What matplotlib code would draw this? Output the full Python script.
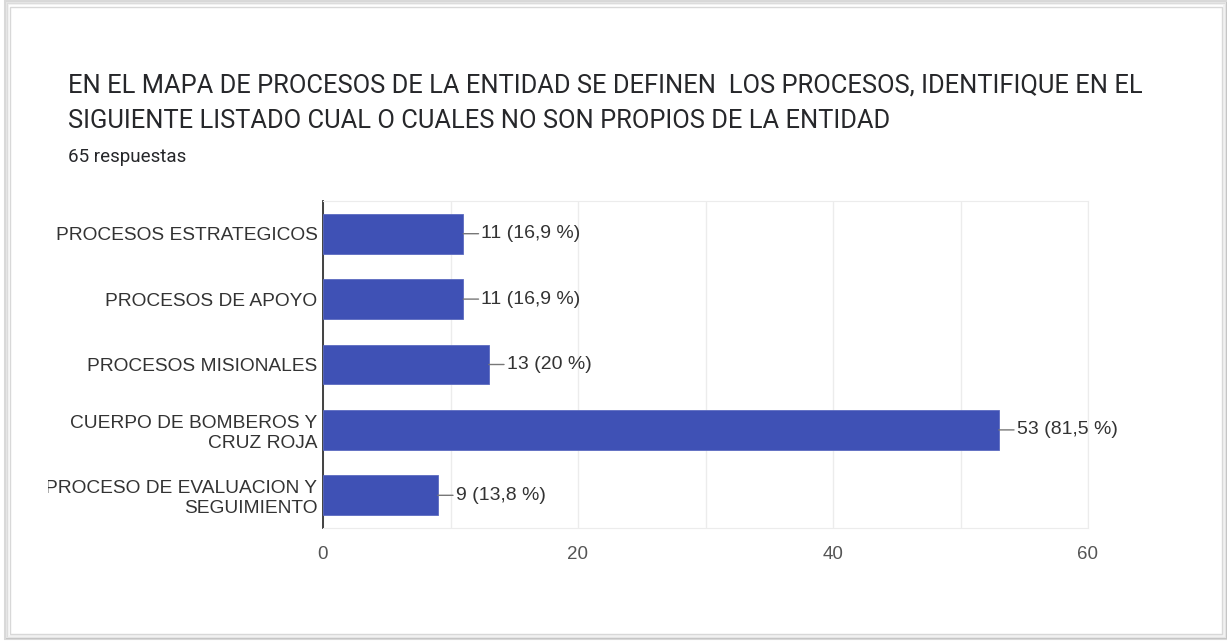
import matplotlib.pyplot as plt
from matplotlib.patches import Rectangle
from matplotlib.transforms import Bbox, TransformedBbox

categories = ["PROCESOS ESTRATEGICOS", "PROCESOS DE APOYO", "PROCESOS MISIONALES",
              "CUERPO DE BOMBEROS Y\nCRUZ ROJA", "PROCESO DE EVALUACION Y\nSEGUIMIENTO"]
counts = [11, 11, 13, 53, 9]
percents = [16.9, 16.9, 20, 81.5, 13.8]
xticks = [0, 20, 40, 60]

title_lines = ["EN EL MAPA DE PROCESOS DE LA ENTIDAD SE DEFINEN  LOS PROCESOS, IDENTIFIQUE EN EL",
               "SIGUIENTE LISTADO CUAL O CUALES NO SON PROPIOS DE LA ENTIDAD"]
subtitle = "65 respuestas"

W, H = 1227, 641
fig = plt.figure(figsize=(W / 100, H / 100), dpi=100)
fig.patch.set_facecolor("white")

# card with soft shadow
for i, a in enumerate([0.10, 0.18, 0.30]):
    fig.patches.append(Rectangle((8 / W - i * 0.0012, 5 / H - i * 0.0024),
                                 (1216 + i * 3) / W, (632 + i * 3) / H,
                                 transform=fig.transFigure, fill=False, zorder=-10,
                                 edgecolor="black", alpha=a * 0.5, lw=1.5))
fig.patches.append(Rectangle((10 / W, 7 / H), 1212 / W, 627 / H, transform=fig.transFigure,
                             facecolor="white", edgecolor="#d8d8d8", lw=1, zorder=-9))

fig.text(68 / W, 1 - 92 / H, title_lines[0], fontsize=18.4, family="Roboto", color="#26272a", va="baseline")
fig.text(68 / W, 1 - 128 / H, title_lines[1], fontsize=18.4, family="Roboto", color="#26272a", va="baseline")
fig.text(68 / W, 1 - 162 / H, subtitle, fontsize=13.5, family="Roboto", color="#26272a", va="baseline")

ax = fig.add_axes([323 / W, 1 - 528 / H, (1088 - 323) / W, (528 - 201) / H])
y = list(range(len(categories)))
ax.barh(y, counts, height=0.61, color="#3f51b5", edgecolor="#5c6bc0", lw=0.6, zorder=3)
ax.set_ylim(len(categories) - 0.5, -0.5)
ax.set_xlim(0, 60)
ax.set_xticks(xticks)
ax.set_xticks([10, 30, 50], minor=True)
ax.grid(True, axis="x", which="both", color="#ececec", lw=1, zorder=0)
ax.tick_params(axis="x", which="both", length=0, pad=13, labelsize=13.5, labelcolor="#555555")
ax.tick_params(axis="y", length=0, pad=4, labelsize=13.8, labelcolor="#333333")
ax.set_yticks(y)
ax.set_yticklabels(categories, family="Liberation Sans", linespacing=1.2)
for lbl in ax.get_xticklabels():
    lbl.set_family("Liberation Sans")
for s in ["top", "right", "bottom"]:
    ax.spines[s].set_color("#ececec")
ax.spines["left"].set_color("#333333")
ax.spines["left"].set_linewidth(1.3)

for i, (c, p) in enumerate(zip(counts, percents)):
    ptxt = ("%g" % p).replace(".", ",")
    ax.annotate(f"{c} ({ptxt} %)", xy=(c, i), xytext=(13, 0), textcoords="offset points",
                va="center", ha="left", fontsize=14, family="Liberation Sans", color="#333333",
                arrowprops=dict(arrowstyle="-", color="#777777", lw=1, shrinkA=0, shrinkB=0))

# clip labels at card edge
clip = TransformedBbox(Bbox([[48 / W, 0], [1, 1]]), fig.transFigure)
for lbl in ax.get_yticklabels():
    lbl.set_clip_on(True)
    lbl.set_clip_box(clip)

fig.savefig("out.png", dpi=100)
